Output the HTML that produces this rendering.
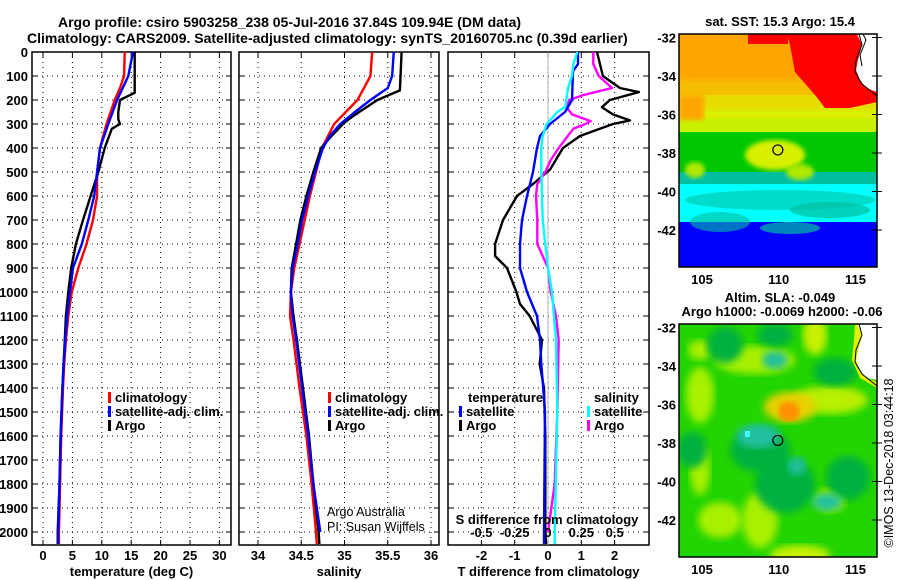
<!DOCTYPE html>
<html><head><meta charset="utf-8">
<style>
html,body{margin:0;padding:0;background:#fff;}
svg{display:block;font-family:"Liberation Sans",Arial,sans-serif;}
.b{font-weight:bold;font-size:13px;fill:#000;}
.t{font-weight:bold;font-size:14px;fill:#000;}
.n{font-size:12.5px;fill:#000;}
</style></head>
<body>
<svg id="fig" width="900" height="580" viewBox="0 0 900 580" xmlns="http://www.w3.org/2000/svg">
<defs>
<filter id="blur6"><feGaussianBlur stdDeviation="4"/></filter>
<filter id="blur3"><feGaussianBlur stdDeviation="2.5"/></filter>
<clipPath id="clipTop"><rect x="679" y="34" width="198" height="233"/></clipPath>
<clipPath id="clipBot"><rect x="679" y="324" width="198" height="233"/></clipPath>
</defs>
<text class="t" x="58" y="27">Argo profile: csiro 5903258_238 05-Jul-2016 37.84S 109.94E (DM data)</text>
<text class="t" x="27" y="43">Climatology: CARS2009. Satellite-adjusted climatology: synTS_20160705.nc (0.39d earlier)</text>
<g id="panels"></g>
<g id="maps"></g>
</svg>
<script>
// ---------- data ----------
const depthTicks = [0,100,200,300,400,500,600,700,800,900,1000,1100,1200,1300,1400,1500,1600,1700,1800,1900,2000];
const tempTicks = [0,5,10,15,20,25,30];
const salTicks = [34,34.5,35,35.5,36];
const salTickLabels = ["34","34.5","35","35.5","36"];
const tdiffTicks = [-2,-1,0,1,2];
const sdiffTicks = [-0.5,-0.25,0,0.25,0.5];
const sdiffTickLabels = ["-0.5","-0.25","0","0.25","0.5"];

const tClimDepth = [0,100,150,200,300,400,500,600,700,800,900,1000,1050,1100,1200,1300,1400,1600,1800,2000,2050];
const tClim      = [13.9,13.8,13.1,12.2,10.8,9.7,9.2,9.2,8.5,7.4,6.0,4.9,4.6,4.3,3.9,3.6,3.4,3.1,2.9,2.7,2.7];
const tSatDepth  = [0,100,200,300,400,500,600,700,800,900,1000,1100,1200,1300,1400,1600,1800,2000,2050];
const tSat       = [15.3,14.5,12.6,11.1,9.7,9.2,8.7,7.7,6.6,5.1,4.6,4.1,3.8,3.5,3.3,3.0,2.8,2.6,2.6];
const tArgoDepth = [0,170,200,250,280,300,320,400,500,600,700,800,900,1000,1050,1100,1200,1300,1400,1600,1800,2000,2050];
const tArgo      = [15.6,15.6,13.1,12.8,12.8,13.1,11.7,10.5,9.4,8.1,6.8,5.6,4.8,4.3,4.1,3.9,3.7,3.5,3.3,3.0,2.8,2.5,2.5];

const sClimDepth = [0,100,200,300,400,500,600,700,800,900,1000,1100,1200,1400,1600,1800,2000,2050];
const sClim      = [35.32,35.3,35.15,34.88,34.74,34.67,34.6,34.54,34.48,34.42,34.38,34.37,34.41,34.48,34.56,34.62,34.67,34.68];
const sSatDepth  = [0,100,150,200,250,300,350,400,500,600,700,800,900,1000,1100,1200,1400,1600,1800,2000];
const sSat       = [35.57,35.55,35.5,35.3,35.12,34.95,34.83,34.75,34.66,34.58,34.51,34.46,34.4,34.38,34.4,34.44,34.51,34.58,34.64,34.72];
const sArgoDepth = [0,160,200,250,280,300,320,350,400,500,600,700,800,900,1000,1100,1200,1400,1600,1800,2000,2050];
const sArgo      = [35.66,35.64,35.38,35.17,35.05,34.98,34.93,34.85,34.73,34.64,34.56,34.49,34.44,34.39,34.38,34.41,34.45,34.52,34.59,34.64,34.70,34.71];

const dTArgoDepth = [0,100,150,167,200,230,260,285,300,350,400,490,550,600,700,800,850,900,1000,1050,1100,1200,1300,1400,1600,2000,2050];
const dTArgo      = [1.47,1.65,2.16,2.73,1.86,1.62,1.95,2.46,1.95,0.96,0.45,0.06,-0.45,-0.93,-1.35,-1.59,-1.59,-1.23,-0.95,-0.84,-0.55,-0.18,-0.25,-0.12,-0.08,-0.08,-0.06];
const dTSatDepth  = [0,50,80,200,250,300,350,400,500,600,700,800,900,1000,1050,1100,1200,1300,1500,2000,2050];
const dTSat       = [0.9,0.9,0.75,0.72,0.51,0.06,-0.24,-0.33,-0.45,-0.63,-0.78,-0.84,-0.84,-0.63,-0.48,-0.33,-0.24,-0.2,-0.09,-0.12,-0.12];
const dSSatDepth  = [0,50,100,150,228,250,300,350,400,500,700,800,900,1000,1200,1500,2000,2050];
const dSSat       = [0.22,0.19,0.18,0.15,0.13,0.07,-0.01,-0.04,-0.05,-0.05,-0.04,-0.02,0,0.03,0.06,0.07,0.05,0.05];
const dSArgoDepth = [0,50,100,150,180,200,230,260,288,300,320,400,450,500,550,600,700,800,850,900,1000,1100,1200,1500,1800,2000];
const dSArgo      = [0.34,0.34,0.38,0.48,0.26,0.16,0.14,0.18,0.32,0.28,0.19,0.08,0.02,-0.02,-0.08,-0.09,-0.08,-0.08,-0.04,0,0.02,0.06,0.08,0.07,0.05,0.0];

// map axes
const latTicks = [-32,-34,-36,-38,-40,-42];
const lonTicks = [105,110,115];
const argoLon = 109.94, argoLat = -37.84;

// ---------- helpers ----------
const NS = "http://www.w3.org/2000/svg";
const panelsG = document.getElementById('panels');
const mapsG = document.getElementById('maps');
function mk(tag, attrs, parent){ const e=document.createElementNS(NS,tag); for(const k in attrs) e.setAttribute(k,attrs[k]); (parent||panelsG).appendChild(e); return e; }
const yTop=52, yBot=545, depthMax=(545-52)/0.24;
const yD = d => yTop + d*0.24;
const xT = t => 43 + 5.88*t;
const xS = s => 258 + 86.5*(s-34);
const xTd = t => 548 + 33.3*t;
const xSd = s => 548 + 133.3*s;

const panels = [
  {name:'temperature-panel', x0:32, x1:231, vt:tempTicks, vx:xT, lab:tempTicks.map(String), title:'temperature (deg C)'},
  {name:'salinity-panel', x0:239, x1:439, vt:salTicks, vx:xS, lab:salTickLabels, title:'salinity'},
  {name:'difference-panel', x0:448, x1:649, vt:tdiffTicks, vx:xTd, lab:tdiffTicks.map(String), title:'T difference from climatology'}
];
panels.forEach((p,pi)=>{
  const g = mk('g',{});
  
  
  depthTicks.forEach(d=>{
    const l=mk('line',{x1:p.x0,x2:p.x1,y1:yD(d),y2:yD(d),stroke:'#000','stroke-width':1,'stroke-dasharray':'1,4'},g);
    
    
    mk('line',{x1:p.x0,x2:p.x0+5,y1:yD(d),y2:yD(d),stroke:'#000'},g);
    mk('line',{x1:p.x1-5,x2:p.x1,y1:yD(d),y2:yD(d),stroke:'#000'},g);
  });
  p.vt.forEach((v,i)=>{
    const x=p.vx(v);
    const l=mk('line',{x1:x,x2:x,y1:yTop,y2:yBot,stroke:'#000','stroke-width':1,'stroke-dasharray':'1,4'},g);
    
    
    mk('line',{x1:x,x2:x,y1:yBot-5,y2:yBot,stroke:'#000'},g);
    mk('line',{x1:x,x2:x,y1:yTop,y2:yTop+5,stroke:'#000'},g);
    const t=mk('text',{x:x,y:560,'text-anchor':'middle',class:'b'},g);
    t.textContent=p.lab[i];
    
    
  });
  const fr=mk('rect',{x:p.x0,y:yTop,width:p.x1-p.x0,height:yBot-yTop,fill:'none',stroke:'#000','stroke-width':1.5},g);
  
  
  const tt=mk('text',{x:(p.x0+p.x1)/2,y:576,'text-anchor':'middle',class:'b'},g);
  tt.textContent=p.title;
  
  
});
depthTicks.forEach(d=>{
  const t=mk('text',{x:28,y:yD(d)+5,'text-anchor':'end',class:'b'});
  t.textContent=String(d);
  
  
});
mk('line',{x1:xTd(0),x2:xTd(0),y1:yTop,y2:yBot,stroke:'#aaa','stroke-width':0.8});

function series(dep, val, fx, color, name){
  const pts = dep.map((d,i)=> fx(val[i]).toFixed(1)+','+yD(Math.min(d,depthMax)).toFixed(1)).join(' ');
  const pl = mk('polyline',{points:pts,fill:'none',stroke:color,'stroke-width':2.4,'stroke-linejoin':'round'});
  
  
}
series(tClimDepth,tClim,xT,'#ff0000','temp-climatology-line');
series(tArgoDepth,tArgo,xT,'#000','temp-argo-line');
series(tSatDepth,tSat,xT,'#0000ff','temp-satellite-line');
series(sClimDepth,sClim,xS,'#ff0000','sal-climatology-line');
series(sArgoDepth,sArgo,xS,'#000','sal-argo-line');
series(sSatDepth,sSat,xS,'#0000ff','sal-satellite-line');
series(dTArgoDepth,dTArgo,xTd,'#000','tdiff-argo-line');
series(dSArgoDepth,dSArgo,xSd,'#ff00ff','sdiff-argo-line');
series(dTSatDepth,dTSat,xTd,'#0000ff','tdiff-satellite-line');
series(dSSatDepth,dSSat,xSd,'#00ffff','sdiff-satellite-line');

sdiffTicks.forEach((v,i)=>{
  const t=mk('text',{x:xSd(v),y:537,'text-anchor':'middle',class:'b'});
  t.textContent=sdiffTickLabels[i];
  
  
});
{const t=mk('text',{x:547,y:524,'text-anchor':'middle',class:'b'}); t.textContent='S difference from climatology';

}

function legend(x,y,color,label,name){
  const g=mk('g',{});
  
  
  if(color) mk('rect',{x:x,y:y-10,width:3,height:11,fill:color},g);
  const t=mk('text',{x:x+7,y:y,class:'b'},g); t.textContent=label;
}
legend(108,402,'#ff0000','climatology','legend-entry-climatology');
legend(108,416,'#0000ff','satellite-adj. clim.','legend-entry-satellite');
legend(108,430,'#000','Argo','legend-entry-argo');
legend(328,402,'#ff0000','climatology','legend-entry-climatology');
legend(328,416,'#0000ff','satellite-adj. clim.','legend-entry-satellite');
legend(328,430,'#000','Argo','legend-entry-argo');
legend(461,402,null,'temperature','legend-title-temperature');
legend(459,416,'#0000ff','satellite','legend-entry-temp-satellite');
legend(459,430,'#000','Argo','legend-entry-temp-argo');
legend(587,402,null,'salinity','legend-title-salinity');
legend(587,416,'#00ffff','satellite','legend-entry-sal-satellite');
legend(587,430,'#ff00ff','Argo','legend-entry-sal-argo');
{const t=mk('text',{x:327,y:516,class:'n'}); t.textContent='Argo Australia';
 
const t2=mk('text',{x:327,y:531,class:'n'}); t2.textContent='PI: Susan Wijffels';
 }

// ---------- maps ----------
const mx0=679, mx1=877, lon0=103.5, lon1=116.4;
const xLon = lo => mx0 + (lo-lon0)*(mx1-mx0)/(lon1-lon0);
function mapFrame(y0, name){
  const yLat = la => y0 + 3.5 + (-32-la)*19.25;
  const g=mk('g',{},mapsG);
  
  
  return {g,yLat};
}
function latLabels(g,yLat){
  latTicks.forEach(la=>{const y=yLat(la); mk('line',{x1:872,x2:877,y1:y,y2:y,stroke:'#000'},g);
    mk('line',{x1:877,x2:882,y1:y,y2:y,stroke:'#000'},g);
    const t=mk('text',{x:676,y:y+5,'text-anchor':'end',class:'b'},g); t.textContent=String(la);
     });
}
// top SST map
{
  const {g,yLat}=mapFrame(34,'sst-map');
  const c=mk('g',{'clip-path':'url(#clipTop)'},g);
  const bands=[['#ffa500',34,100],['#d8f000',95,128],['#c8f000',118,140],['#00c800',132,178],['#00c0a0',172,186],['#00ffff',184,222],['#0000ff',222,268]];
  bands.forEach(b=>mk('rect',{x:679,y:b[1],width:198,height:b[2]-b[1],fill:b[0]},c));
  mk('rect',{x:679,y:80,width:198,height:30,fill:'#f0d000',opacity:0.6,filter:'url(#blur3)'},c);
  mk('rect',{x:679,y:95,width:25,height:25,fill:'#ffa500',filter:'url(#blur3)'},c);
  mk('ellipse',{cx:775,cy:155,rx:30,ry:15,fill:'#d8f000',filter:'url(#blur3)'},c);
  mk('ellipse',{cx:800,cy:172,rx:14,ry:8,fill:'#b0e800',filter:'url(#blur3)'},c);
  mk('ellipse',{cx:695,cy:170,rx:10,ry:8,fill:'#b0e800',filter:'url(#blur3)'},c);
  mk('ellipse',{cx:780,cy:200,rx:95,ry:10,fill:'#00c0a0',opacity:0.55},c);
  mk('ellipse',{cx:830,cy:210,rx:40,ry:8,fill:'#00c0a0',opacity:0.7},c);
  mk('ellipse',{cx:720,cy:222,rx:30,ry:10,fill:'#00c0a0',opacity:0.6},c);
  mk('ellipse',{cx:790,cy:228,rx:30,ry:6,fill:'#00c0a0',opacity:0.7},c);
  mk('polygon',{points:'787,34 877,34 877,102 850,108 825,108 815,95 795,72 790,45',fill:'#ff0000'},c);
  mk('rect',{x:748,y:34,width:40,height:10,fill:'#ff0000'},c);
  mk('polygon',{points:'857,34 877,34 877,92 866,88 860,80 856,70 858,60 862,45',fill:'#fff'},c);
  mk('polyline',{points:'859,34 862,45 856,60 855,72 862,84 872,92 877,96',fill:'none',stroke:'#000','stroke-width':1},c);
  mk('polyline',{points:'863,34 866,40 860,55 862,66',fill:'none',stroke:'#000','stroke-width':1},c);
  mk('circle',{cx:xLon(argoLon),cy:yLat(argoLat),r:5,fill:'none',stroke:'#000','stroke-width':1.2},g);
  mk('rect',{x:679,y:34,width:198,height:233,fill:'none',stroke:'#000','stroke-width':1.5},g);
  latLabels(g,yLat);
  lonTicks.forEach(lo=>{const t=mk('text',{x:xLon(lo),y:284,'text-anchor':'middle',class:'b'},g); t.textContent=String(lo);
     });
  const tt=mk('text',{x:780,y:26,'text-anchor':'middle',class:'b'},g); tt.textContent='sat. SST: 15.3 Argo: 15.4';
   
}
// bottom SLA map
{
  const {g,yLat}=mapFrame(324,'sla-map');
  const c=mk('g',{'clip-path':'url(#clipBot)'},g);
  mk('rect',{x:679,y:324,width:198,height:233,fill:'#22d400'},c);
  const blobs=[['#a8f000',700,395,14,28],['#a8f000',755,360,40,14],['#c8f000',815,335,12,20],['#b8f000',830,400,38,14],['#a8f000',720,520,22,18],['#a8f000',760,520,18,28],['#a8f000',830,500,15,12],['#c8f000',800,555,30,10],['#a8f000',700,350,12,10],['#a8f000',700,470,10,25],
    ['#00b040',725,345,18,18],['#00b040',775,335,18,12],['#00b040',835,372,22,14],['#00b040',785,485,30,28],['#00b040',692,450,15,18],['#00b040',848,478,22,22],['#00b040',760,450,30,22],
    ['#20c0a0',775,360,13,9],['#20c0a0',758,436,22,12],['#20c0a0',827,502,15,9],['#20c0a0',797,466,9,9],
    ['#e8d000',790,407,26,15],['#ff9000',789,411,10,9]];
  blobs.forEach(b=>mk('ellipse',{cx:b[1],cy:b[2],rx:b[3],ry:b[4],fill:b[0],filter:'url(#blur6)'},c));
  mk('ellipse',{cx:789,cy:412,rx:9,ry:8,fill:'#ff9000',filter:'url(#blur3)'},c);
  mk('rect',{x:745,y:431,width:5,height:6,fill:'#40ffff'},c);
  mk('polygon',{points:'857,324 877,324 877,380 866,378 860,370 856,360 858,350 862,335',fill:'#fff'},c);
  mk('polygon',{points:'855,324 857,324 862,335 858,350 856,360 860,370 866,378 877,382 877,388 860,378 852,360 854,340',fill:'#e0f000'},c);
  mk('polyline',{points:'859,324 862,335 856,350 855,362 862,374 872,382 877,386',fill:'none',stroke:'#000','stroke-width':1},c);
  mk('circle',{cx:xLon(argoLon),cy:yLat(argoLat)+0.5,r:5,fill:'none',stroke:'#000','stroke-width':1.2},g);
  mk('rect',{x:679,y:324,width:198,height:233,fill:'none',stroke:'#000','stroke-width':1.5},g);
  latLabels(g,yLat);
  lonTicks.forEach(lo=>{const t=mk('text',{x:xLon(lo),y:574,'text-anchor':'middle',class:'b'},g); t.textContent=String(lo);
     });
  const t1=mk('text',{x:780,y:302,'text-anchor':'middle',class:'b'},g); t1.textContent='Altim. SLA: -0.049';
   
  const t2=mk('text',{x:782,y:316,'text-anchor':'middle',class:'b'},g); t2.textContent='Argo h1000: -0.0069 h2000: -0.06';
   
  const cr=mk('text',{x:0,y:0,'text-anchor':'middle',class:'n',transform:'translate(893,463) rotate(-90)'},g); cr.textContent='©IMOS 13-Dec-2018 03:44:18';
   
}
</script>
</body></html>
